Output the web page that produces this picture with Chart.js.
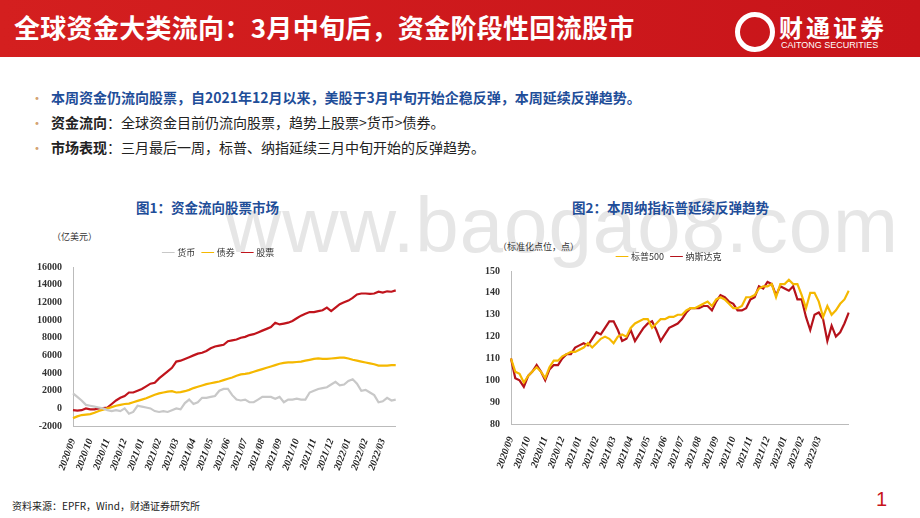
<!DOCTYPE html>
<html><head><meta charset="utf-8">
<script src="https://cdn.jsdelivr.net/npm/chart.js@4"></script>
<style>
body{margin:0;width:920px;height:518px;position:relative;background:#fff;font-family:"Noto Sans CJK SC",sans-serif;overflow:hidden}
.hdr{position:absolute;left:0;top:0;width:920px;height:57px;background:linear-gradient(90deg,#d41f1f,#c8141a)}
.ttl{position:absolute;left:14px;top:8px;color:#fff;font-size:26px;font-weight:bold;letter-spacing:0.3px}
.logo{position:absolute;left:735px;top:9px;color:#fff}
.logo .cn{position:absolute;left:44px;top:0;font-size:24px;font-weight:bold;letter-spacing:3px;white-space:nowrap}
.logo .en{position:absolute;left:46px;top:31px;font-size:9px;font-family:"Liberation Sans";white-space:nowrap}
.logo .ic{position:absolute;left:0;top:3px;width:30px;height:30px;border:5px solid #fff;border-radius:50%}
.b{position:absolute;left:34px;font-size:14px;color:#222}
.b:before{content:"•";color:#d4a373;position:absolute;left:-4px}
.b span{margin-left:17px}
.cap{position:absolute;font-size:13.5px;font-weight:bold;color:#1f4e99}
.wm{position:absolute;left:225px;top:180px;font-family:"Liberation Sans";font-size:78px;color:#e6e6e6;letter-spacing:1px}
.unit{position:absolute;font-size:9px;color:#333;font-family:"Noto Sans CJK SC"}
.src{position:absolute;left:12px;top:498px;font-size:10px;color:#222}
.pg{position:absolute;left:876px;top:488px;font-size:20px;color:#c8141a;font-family:"Liberation Sans"}
canvas{position:absolute}
</style></head><body>
<div class="hdr"></div>
<div class="ttl">全球资金大类流向：3月中旬后，资金阶段性回流股市</div>
<div class="logo"><div class="ic"></div><div class="cn">财通证券</div><div class="en">CAITONG SECURITIES</div></div>
<div class="b" style="top:87px"><span style="color:#1f4e99;font-weight:bold">本周资金仍流向股票，自2021年12月以来，美股于3月中旬开始企稳反弹，本周延续反弹趋势。</span></div>
<div class="b" style="top:112px"><span><b>资金流向</b>：全球资金目前仍流向股票，趋势上股票&gt;货币&gt;债券。</span></div>
<div class="b" style="top:137px"><span><b>市场表现</b>：三月最后一周，标普、纳指延续三月中旬开始的反弹趋势。</span></div>
<div class="wm">www.baogao8.com</div>
<div class="cap" style="left:136px;top:197px">图1：资金流向股票市场</div>
<div class="cap" style="left:572px;top:197px">图2：本周纳指标普延续反弹趋势</div>
<div class="unit" style="left:52px;top:230px">（亿美元）</div>
<div class="unit" style="left:498px;top:240px">（标准化点位，点）</div>
<canvas id="c1" style="left:34px;top:240px;width:376px;height:235px"></canvas>
<canvas id="c2" style="left:482px;top:244px;width:381px;height:229px"></canvas>
<div class="src">资料来源：EPFR，Wind，财通证券研究所</div>
<div class="pg">1</div>
<script>
const months = ['2020/09','2020/10','2020/11','2020/12','2021/01','2021/02','2021/03','2021/04','2021/05','2021/06','2021/07','2021/08','2021/09','2021/10','2021/11','2021/12','2022/01','2022/02','2022/03'];

const currency = [1700,1300,900,400, 300,200,100,0, -200,-300,-200,-300, 0,-600,-400,300, 200,100,0,-300, -400,-300,-400,-200, 0,-100,600,1000, 500,700,1200,1200, 1300,1400,2000,2200, 2200,1500,1000,900, 1000,700,700,1000, 1300,1300,1300,1100, 1300,700,1000,1000, 1100,1000,1000,1800, 2000,2200,2300,2400, 2700,3000,2600,2700, 3100,3300,2800,2000, 2100,1800,1500,700, 800,1200,900,1000];
const bonds = [-1100,-900,-750,-700, -650,-500,-300,-150, 0,150,300,400, 500,550,700,850, 1000,1150,1350,1550, 1700,1800,1900,1950, 1800,1850,1950,2100, 2300,2450,2600,2750, 2850,2950,3050,3200, 3350,3500,3700,3850, 3900,4000,4150,4300, 4450,4600,4750,4900, 5050,5150,5200,5200, 5250,5300,5400,5500, 5600,5650,5600,5600, 5650,5700,5750,5750, 5650,5500,5400,5300, 5200,5100,5000,4850, 4850,4850,4900,4900];
const stocks = [-200,-250,-200,0, -100,-100,0,50, 100,500,900,1200, 1400,1800,1800,2000, 2200,2500,2800,2900, 3400,3800,4200,4600, 5300,5400,5600,5800, 6000,6200,6300,6500, 6800,7000,7100,7200, 7600,7700,7800,8000, 8100,8300,8400,8600, 8800,9000,9200,9700, 9500,9600,9700,9900, 10200,10500,10700,10900, 10900,11000,11100,11400, 11000,11400,11800,12000, 12200,12500,12900,13000, 13000,12950,13000,13200, 13100,13250,13200,13350];

const spx = [110,104,103,99, 102,104,106,104, 101,106,109,109, 111,112,113,113, 114,115,117,115, 117,119,120,119, 117,120,121,120, 124,126,127,128, 128,124,126,128, 128,129,129,130, 130,132,133,133, 134,135,136,134, 137,138,137,135, 133,133,134,138, 138,139,142,143, 143,144,138,144, 144,146,144,144, 139,133,140,140, 136,129,134,130, 132,135,137,141];
const nasdaq = [110,101,100,97, 102,104,107,104, 100,105,107,107, 110,112,112,115, 116,117,116,119, 122,121,124,127, 127,123,118,119, 123,118,121,124, 126,127,123,118, 121,124,125,126, 128,131,133,133, 133,134,134,132, 136,139,138,136, 135,132,132,133, 137,138,143,142, 145,144,139,143, 142,141,143,137, 137,129,123,130, 131,128,118,125, 120,122,126,131];

function weekLabels(n){
  const out = [];
  for (let i = 0; i < n; i++) out.push(i % 4 === 0 && months[i/4] ? months[i/4] : '');
  return out;
}

function opts(min, max, step){
  return {
    responsive:false, animation:false,
    layout:{padding:{top:0,right:6}},
    plugins:{legend:{position:'top', align:'center',
      labels:{usePointStyle:true, pointStyle:'line', boxWidth:26, padding:8, font:{family:'Noto Sans CJK SC', size:9}, color:'#333'}}},
    elements:{point:{radius:0}, line:{borderWidth:2.2, tension:0}},
    scales:{
      x:{grid:{display:false}, border:{color:'#bbb'},
        ticks:{autoSkip:false, maxRotation:70, minRotation:70, font:{family:'Liberation Serif', size:10, weight:'bold', style:'italic'}, color:'#222',
          callback:function(v){ return this.getLabelForValue(v); }}},
      y:{min:min, max:max, grid:{display:false}, border:{color:'#bbb'},
        ticks:{stepSize:step, font:{family:'Liberation Serif', size:10, weight:'bold'}, color:'#333',
          callback:v => String(v)}}
    }
  };
}

function sizeCanvas(id){
  const c = document.getElementById(id);
  c.width = parseInt(c.style.width); c.height = parseInt(c.style.height);
  return c;
}

new Chart(sizeCanvas('c1'), {
  type:'line',
  data:{labels:weekLabels(stocks.length), datasets:[
    {label:'货币', data:currency, borderColor:'#c8c8c8', backgroundColor:'#c8c8c8'},
    {label:'债券', data:bonds, borderColor:'#f5b800', backgroundColor:'#f5b800'},
    {label:'股票', data:stocks, borderColor:'#c0141c', backgroundColor:'#c0141c'}
  ]},
  options:opts(-2000, 16000, 2000)
});

new Chart(sizeCanvas('c2'), {
  type:'line',
  data:{labels:weekLabels(nasdaq.length), datasets:[
    {label:'标普500', data:spx, borderColor:'#f5b800', backgroundColor:'#f5b800'},
    {label:'纳斯达克', data:nasdaq, borderColor:'#b5121b', backgroundColor:'#b5121b'}
  ]},
  options:opts(80, 150, 10)
});
</script>
</body></html>
